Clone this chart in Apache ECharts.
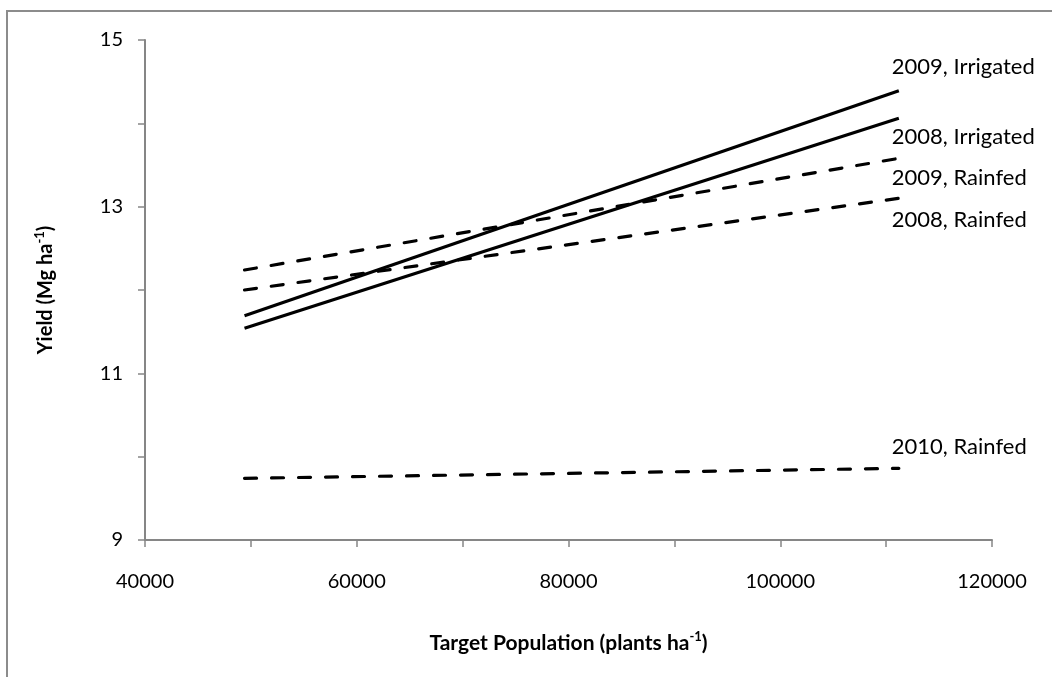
<!DOCTYPE html>
<html>
<head>
<meta charset="utf-8">
<script src="https://cdn.jsdelivr.net/npm/echarts@6/dist/echarts.min.js"></script>
<style>
  html, body { margin: 0; padding: 0; background: #fff; }
  #main { width: 1052px; height: 677px; }
</style>
</head>
<body>
<div id="main"></div>
<script>
  // target population (plants/ha) at the ends of each fitted line
  var popX = [49400, 111200];
  // yield (Mg/ha) at those populations
  var irr2009 = [11.69, 14.39];
  var irr2008 = [11.54, 14.06];
  var rain2009 = [12.24, 13.58];
  var rain2008 = [12.00, 13.10];
  var rain2010 = [9.74, 9.86];
  var seriesNames = ['2009, Irrigated', '2008, Irrigated', '2009, Rainfed', '2008, Rainfed', '2010, Rainfed'];
  var xTicks = [40000, 60000, 80000, 100000, 120000];
  var yTicks = [9, 11, 13, 15];

  var font = 'Lato, "Open Sans", sans-serif';
  var axisGray = '#868686';

  function pairs(vals) {
    return popX.map(function (x, i) { return [x, vals[i]]; });
  }

  function makeLine(name, vals, dashed, dy) {
    return {
      name: name,
      type: 'line',
      data: pairs(vals),
      symbol: 'none',
      silent: true,
      lineStyle: {
        color: '#000',
        width: 3.2,
        type: dashed ? [12, 15] : 'solid',
        cap: dashed ? 'round' : 'butt'
      },
      endLabel: {
        show: true,
        formatter: '{a}',
        color: '#000',
        fontFamily: font,
        fontSize: 22,
        distance: 0,
        offset: [-7, dy]
      }
    };
  }

  var myChart = echarts.init(document.getElementById('main'), null, { renderer: 'canvas' });

  var option = {
    animation: false,
    grid: { left: 145, right: 60, top: 40, bottom: 137 },
    graphic: [{
      type: 'rect',
      shape: { x: 7, y: 11, width: 1100, height: 720 },
      style: { fill: 'none', stroke: '#8c8c8c', lineWidth: 2 },
      silent: true
    }],
    xAxis: {
      type: 'value',
      min: xTicks[0],
      max: xTicks[xTicks.length - 1],
      interval: 20000,
      splitLine: { show: false },
      axisLine: { lineStyle: { color: axisGray, width: 2 } },
      axisTick: { length: 7, lineStyle: { color: axisGray, width: 1.5 } },
      minorTick: { show: true, splitNumber: 2, length: 7, lineStyle: { color: axisGray, width: 1.5 } },
      axisLabel: {
        color: '#000', fontFamily: font, fontSize: 20, margin: 32,
        formatter: function (v) { return String(v); }
      },
      name: '{t|Target Population (plants ha}{s|-1}{t|)}',
      nameLocation: 'middle',
      nameGap: 90,
      nameTextStyle: {
        rich: {
          t: { fontFamily: font, fontSize: 21, fontWeight: 'bold', color: '#000', lineHeight: 26 },
          s: { fontFamily: font, fontSize: 13, fontWeight: 'bold', color: '#000', verticalAlign: 'top', lineHeight: 26, padding: [0, 0, 9, 0] }
        }
      }
    },
    yAxis: {
      type: 'value',
      min: yTicks[0],
      max: yTicks[yTicks.length - 1],
      interval: 2,
      splitLine: { show: false },
      axisLine: { show: true, lineStyle: { color: axisGray, width: 2 } },
      axisTick: { show: true, length: 7, lineStyle: { color: axisGray, width: 1.5 } },
      minorTick: { show: true, splitNumber: 2, length: 7, lineStyle: { color: axisGray, width: 1.5 } },
      axisLabel: { color: '#000', fontFamily: font, fontSize: 20, margin: 22 },
      name: '{t|Yield (Mg ha}{s|-1}{t|)}',
      nameLocation: 'middle',
      nameGap: 86,
      nameRotate: 90,
      nameTextStyle: {
        rich: {
          t: { fontFamily: font, fontSize: 20, fontWeight: 'bold', color: '#000', lineHeight: 26 },
          s: { fontFamily: font, fontSize: 13, fontWeight: 'bold', color: '#000', verticalAlign: 'top', lineHeight: 26, padding: [0, 0, 9, 0] }
        }
      }
    },
    series: [
      makeLine(seriesNames[0], irr2009, false, -24),
      makeLine(seriesNames[1], irr2008, false, 19),
      makeLine(seriesNames[2], rain2009, true, 20),
      makeLine(seriesNames[3], rain2008, true, 22),
      makeLine(seriesNames[4], rain2010, true, -21)
    ]
  };

  myChart.setOption(option);
</script>
</body>
</html>
